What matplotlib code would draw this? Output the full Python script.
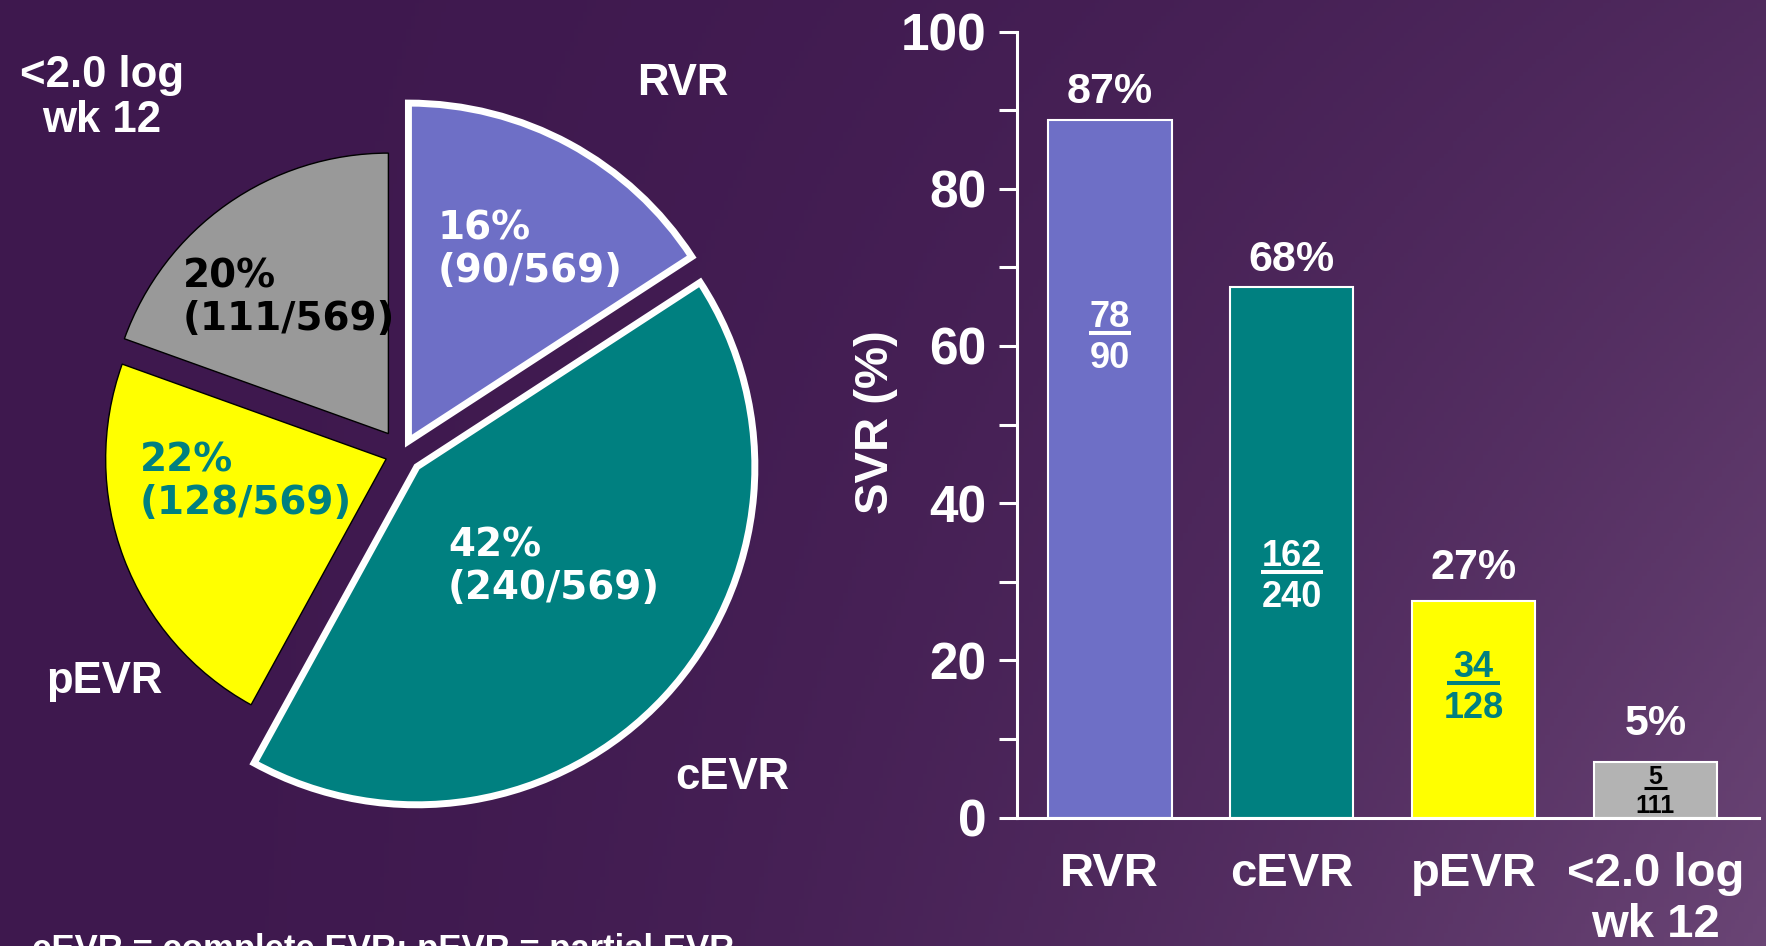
import matplotlib
matplotlib.use("Agg")
import matplotlib.pyplot as plt
import numpy as np

plt.rcParams['font.family'] = ['Liberation Sans', 'DejaVu Sans']
plt.rcParams['font.weight'] = 'bold'

# pie: response groups
groups = ["RVR", "cEVR", "pEVR", "<2.0 log\nwk 12"]
patients = [90, 240, 128, 111]

# bars: SVR by group
svr_num = [78, 162, 34, 5]
svr_den = [90, 240, 128, 111]
svr_bar = [88.8, 67.5, 27.6, 7.0]  # bar heights as drawn

pie_colors = ["#6E6FC6", "#008080", "#FFFF00", "#999999"]
bar_colors = ["#6E6FC6", "#008080", "#FFFF00", "#B3B3B3"]
pie_text = ["white", "white", "#008080", "black"]
frac_text = ["white", "white", "#008080", "black"]

W, H = 1766, 946
fig = plt.figure(figsize=(W / 100, H / 100), dpi=100)

# background gradient
bg = fig.add_axes([0, 0, 1, 1], zorder=-10)
xx, yy = np.meshgrid(np.linspace(0, 1, 400), np.linspace(0, 1, 220))
t = xx ** 2 * (0.4 + 0.6 * yy)
c0 = np.array([62, 24, 78]) / 255
c1 = np.array([106, 69, 117]) / 255
img = c0 + t[..., None] * (c1 - c0)
bg.imshow(img, aspect='auto', extent=[0, 1, 0, 1], origin='upper')
bg.axis('off')

# ---- pie ----
R = 338
cx, cy = 402, 453
half = 1.15
side = 2 * half * R
pax = fig.add_axes([(cx - half * R) / W, (H - cy - half * R) / H, side / W, side / H])
total = sum(patients)
wedges, _ = pax.pie(patients, colors=pie_colors, startangle=90, counterclock=False,
                    explode=[0.04, 0.06, 0.05, 0.07])
for i, w in enumerate(wedges):
    if i < 2:
        w.set_edgecolor("white")
        w.set_linewidth(5)
    else:
        w.set_edgecolor("black")
        w.set_linewidth(1)
        w.set_radius(0.83)
pax.set_xlim(-half, half)
pax.set_ylim(-half, half)
pax.set_aspect('equal')
pax.axis('off')

lbl_pos = [(0.104, 0.60), (0.136, -0.337), (-0.775, -0.086), (-0.648, 0.459)]
for i, c in enumerate(patients):
    s = f"{round(100 * c / total)}%\n({c}/{total})"
    pax.text(*lbl_pos[i], s, ha='left', va='center', color=pie_text[i],
             fontsize=28, fontweight='bold', family='DejaVu Sans', linespacing=1.15)

cat_pos = [(0.831, 1.092), (0.976, -0.959), (-0.882, -0.675), (-0.888, 1.050)]
for g, p in zip(groups, cat_pos):
    pax.text(*p, g, ha='center', va='center', color='white', fontsize=31.5,
             fontweight='bold', clip_on=False, linespacing=1.15)

# ---- bars ----
x0, x1 = 1017, 1759
ytop, ybot = 31.5, 817.5
bax = fig.add_axes([x0 / W, 1 - ybot / H, (x1 - x0) / W, (ybot - ytop) / H])
bax.set_facecolor('none')
x = np.arange(len(groups))
bax.bar(x, svr_bar, width=0.68, color=bar_colors, edgecolor='white', linewidth=1.5, zorder=2)
bax.set_xlim(-0.51, 3.57)
bax.set_ylim(0, 100)
for s in ['top', 'right']:
    bax.spines[s].set_visible(False)
for s in ['left', 'bottom']:
    bax.spines[s].set_color('white')
    bax.spines[s].set_linewidth(2.2)
bax.set_yticks(range(0, 101, 20))
bax.set_yticks(range(10, 100, 20), minor=True)
bax.tick_params(axis='y', which='both', direction='out', length=13, width=2.2,
                color='white', labelcolor='white', labelsize=37, pad=9)
bax.set_xticks(x)
bax.set_xticklabels(groups, fontsize=34, fontweight='bold', color='white', linespacing=1.2)
bax.tick_params(axis='x', length=0, pad=25)

pct_off = [19.5, 19.5, 23.5, 28]
frac_y = [61.6, 31.2, 17.1, 3.7]
frac_w = [0.23, 0.34, 0.29, 0.13]
for i in range(len(groups)):
    pct = round(100 * svr_num[i] / svr_den[i])
    bax.annotate(f"{pct}%", (x[i], svr_bar[i]), xytext=(0, pct_off[i]), textcoords='offset points',
                 ha='center', va='center', color='white', fontsize=31, fontweight='bold')
    small = i == 3
    fs = 18 if small else 26
    up, dn = (3.2, -17.6) if small else (4.7, -25)
    bax.annotate(str(svr_num[i]), (x[i], frac_y[i]), xytext=(0, up), textcoords='offset points',
                 ha='center', va='baseline', color=frac_text[i], fontsize=fs, fontweight='bold')
    bax.annotate(str(svr_den[i]), (x[i], frac_y[i]), xytext=(0, dn), textcoords='offset points',
                 ha='center', va='baseline', color=frac_text[i], fontsize=fs, fontweight='bold')
    bax.plot([x[i] - frac_w[i] / 2, x[i] + frac_w[i] / 2], [frac_y[i]] * 2,
             color=frac_text[i], lw=2.2 if small else 2.9, solid_capstyle='butt', zorder=3)

fig.text(876 / W, 1 - 422 / H, "SVR (%)", rotation=90, ha='center', va='center',
         color='white', fontsize=34, fontweight='bold')

fig.text(32 / W, 1 - 933 / H, "cEVR = complete EVR; pEVR = partial EVR", ha='left', va='top',
         color='white', fontsize=25, fontweight='bold')

fig.savefig("out.png", dpi=100)
